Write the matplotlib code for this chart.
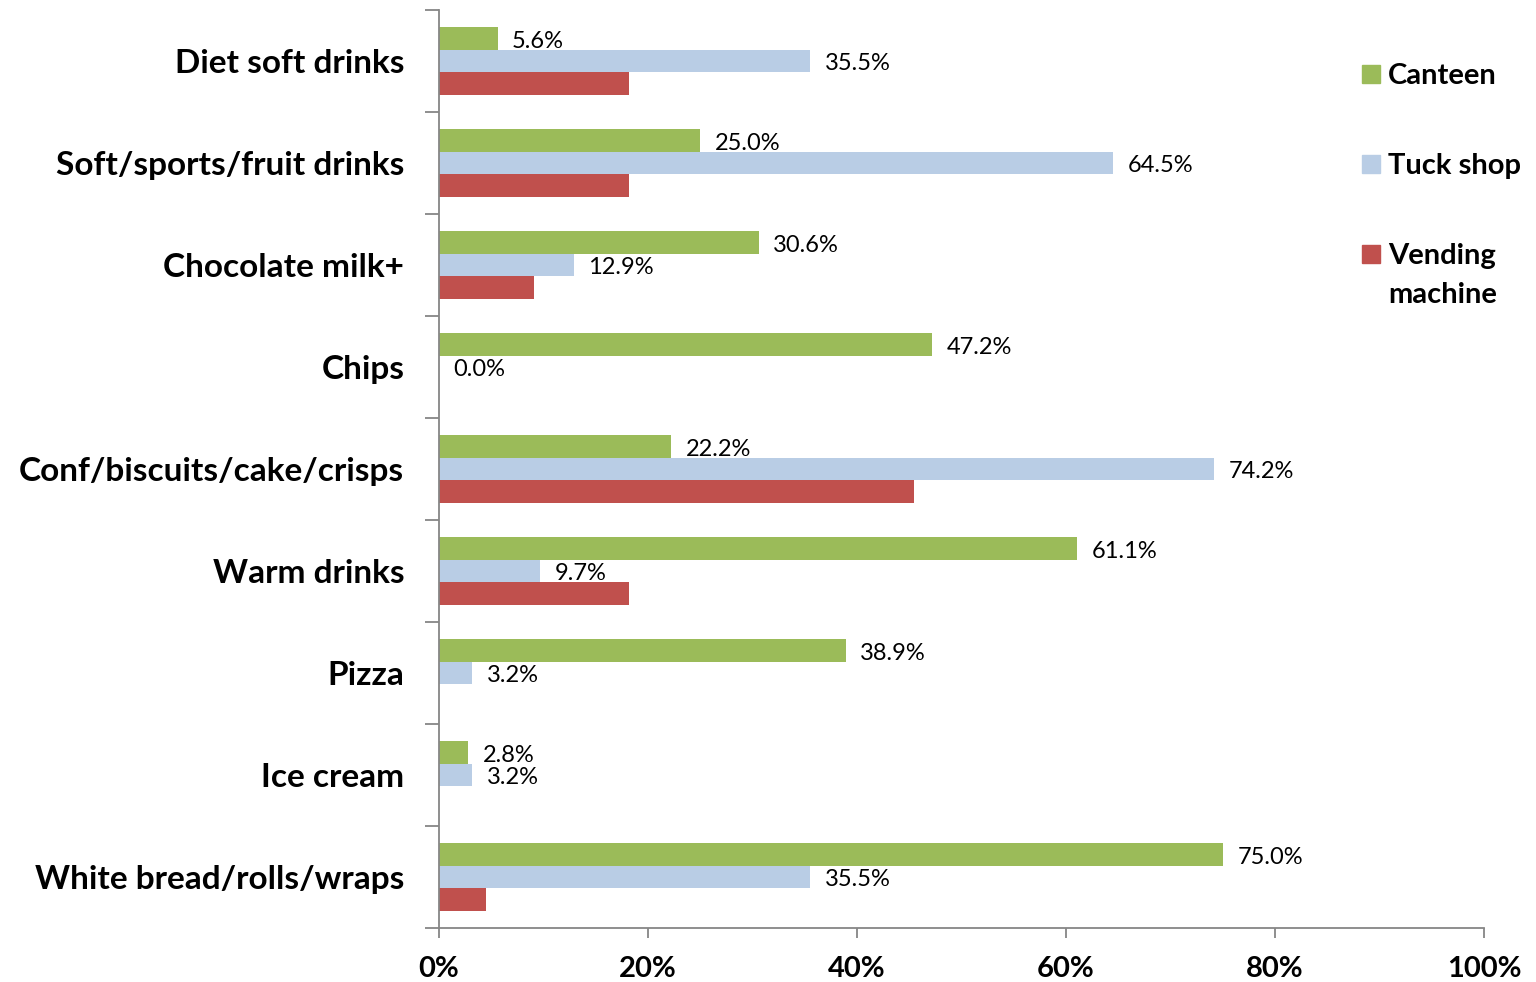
import numpy as np
import matplotlib
matplotlib.use('Agg')
import matplotlib.pyplot as plt
from matplotlib.ticker import FixedLocator
from matplotlib.patches import Rectangle

plt.rcParams['font.family'] = ['Lato', 'DejaVu Sans']

categories = ['Diet soft drinks', 'Soft/sports/fruit drinks', 'Chocolate milk+', 'Chips',
              'Conf/biscuits/cake/crisps', 'Warm drinks', 'Pizza', 'Ice cream',
              'White bread/rolls/wraps']
canteen = [5.6, 25.0, 30.6, 47.2, 22.2, 61.1, 38.9, 2.8, 75.0]
tuck_shop = [35.5, 64.5, 12.9, 0.0, 74.2, 9.7, 3.2, 3.2, 35.5]
vending = [18.2, 18.2, 9.1, 0.0, 45.5, 18.2, 0.0, 0.0, 4.5]
series_names = ['Canteen', 'Tuck shop', 'Vending\nmachine']
colors = ['#9BBB59', '#B9CDE5', '#C0504D']
xticks = [0, 20, 40, 60, 80, 100]

W, H = 1536, 982
fig = plt.figure(figsize=(W / 100, H / 100), dpi=100)
ax = fig.add_axes([439/W, 1-928/H, 1045/W, 918/H])

y = np.arange(len(categories))
h = 0.22
for k, (vals, c) in enumerate(zip([canteen, tuck_shop, vending], colors)):
    ax.barh(y + (k - 1) * h, vals, height=h, color=c, edgecolor='none')
    if k < 2:
        for yi, v in zip(y, vals):
            ax.text(v + 1.4, yi + (k - 1) * h + 0.025, '%.1f%%' % v, va='center', ha='left',
                    fontsize=17, color='black')

ax.set_xlim(0, 100)
ax.set_ylim(len(categories) - 0.5, -0.5)
ax.set_xticks(xticks)
ax.set_xticklabels(['%d%%' % t for t in xticks], fontsize=21, fontweight='bold')
ax.set_yticks(y)
ax.set_yticklabels(categories, fontsize=24, fontweight='bold')
ax.yaxis.set_minor_locator(FixedLocator(np.arange(-0.5, len(categories), 1)))
ax.tick_params(axis='y', which='major', length=0, pad=25)
ax.tick_params(axis='y', which='minor', length=10, color='#868686', width=1.3)
ax.tick_params(axis='x', length=7, color='#868686', width=1.3, pad=13)

for s in ['top', 'right']:
    ax.spines[s].set_visible(False)
for s in ['left', 'bottom']:
    ax.spines[s].set_color('#868686')
    ax.spines[s].set_linewidth(1.3)

# legend drawn by hand, to get the wide spacing
leg_y = [74, 164, 254]
for name, c, ly in zip(series_names, colors, leg_y):
    fig.add_artist(Rectangle((1362/W, 1-(ly+9)/H), 18/W, 18/H, color=c,
                             transform=fig.transFigure))
    fig.text(1388/W, 1-(ly-11)/H, name, ha='left', va='top', fontsize=21,
             fontweight='bold', linespacing=1.6)

fig.savefig('out.png', dpi=100)
